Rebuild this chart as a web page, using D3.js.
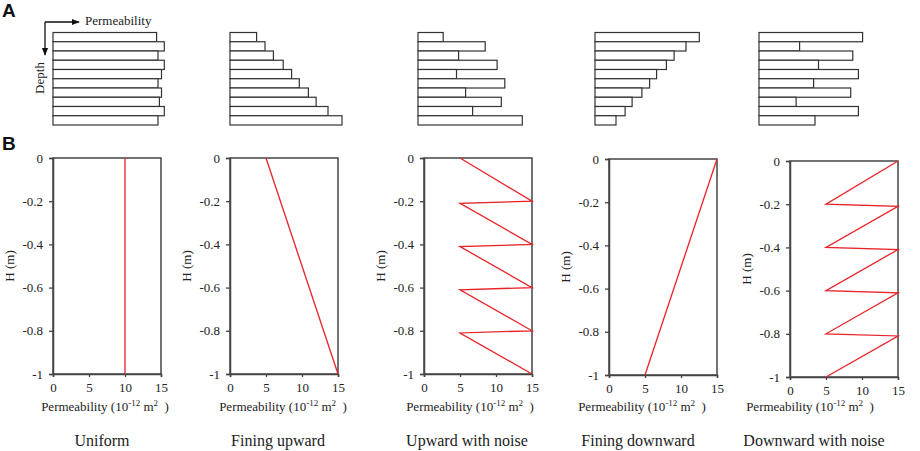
<!DOCTYPE html>
<html>
<head>
<meta charset="utf-8">
<script src="https://cdn.jsdelivr.net/npm/d3@7"></script>
<style>
  body { margin: 0; background: #fff; }
  svg { display: block; }
  text { font-family: "Liberation Serif", "DejaVu Serif", serif; fill: #222; }
  .panel-letter { font-family: "Liberation Sans", Arial, sans-serif; font-weight: bold; font-size: 19px; fill: #111; }
</style>
</head>
<body>
<div id="vis"></div>
<script>
// profile names (bottom captions)
const categories = ["Uniform", "Fining upward", "Upward with noise", "Fining downward", "Downward with noise"];

// panel A: permeability of the 10 layers, top layer first (10^-12 m2)
const layerUniform = [14.8, 15.9, 15.0, 15.9, 15.5, 15.0, 15.5, 15.2, 15.9, 15.0];
const layerFiningUp = [3.8, 5.0, 6.2, 7.6, 8.8, 9.9, 11.2, 12.3, 14.0, 16.0];
const layerUpNoise = [3.6, 9.6, 5.8, 11.3, 5.5, 12.4, 6.8, 11.9, 7.8, 14.9];
const layerFiningDown = [14.9, 13.0, 11.3, 10.2, 8.8, 7.8, 6.7, 5.3, 4.3, 3.0];
const layerDownNoise = [14.8, 5.8, 13.4, 8.5, 14.2, 7.8, 13.1, 5.3, 14.2, 8.0];
const layerValues = [layerUniform, layerFiningUp, layerUpNoise, layerFiningDown, layerDownNoise];

// panel B: permeability profiles, k against depth H (m)
const kUniform = [10, 10];
const hUniform = [0, -1];
const kFiningUp = [5, 15];
const hFiningUp = [0, -1];
const kUpNoise = [5, 15, 5, 15, 5, 15, 5, 15, 5, 15];
const hUpNoise = [0, -0.2, -0.21, -0.4, -0.41, -0.6, -0.61, -0.8, -0.81, -1];
const kFiningDown = [15, 5];
const hFiningDown = [0, -1];
const kDownNoise = [15, 5, 15, 5, 15, 5, 15, 5, 15, 5];
const hDownNoise = [0, -0.2, -0.21, -0.4, -0.41, -0.6, -0.61, -0.8, -0.81, -1];
const profileK = [kUniform, kFiningUp, kUpNoise, kFiningDown, kDownNoise];
const profileH = [hUniform, hFiningUp, hUpNoise, hFiningDown, hDownNoise];

// tick labels
const xTicks = [0, 5, 10, 15];
const yTicks = [0, -0.2, -0.4, -0.6, -0.8, -1];

const width = 920;
const height = 451;
const red = "#ea2127";
const ink = "#444";
const serif = "'Liberation Serif', 'DejaVu Serif', serif";

// where each column sits on the page
const colA = [53, 230, 418, 595, 759];
const colB = [53, 230, 424, 609, 790];
const topB = [158, 158, 158, 159, 161];
const captionX = [102, 278, 467, 638, 814];
const labelX = [105, 283, 470, 642, 810];
const plotW = 108;
const plotH = 216;

const svg = d3.select("#vis")
  .append("svg")
  .attr("width", width)
  .attr("height", height);

// marker for the small arrows in panel A
svg.append("defs").append("marker")
  .attr("id", "head")
  .attr("viewBox", "0 0 10 10")
  .attr("refX", 9)
  .attr("refY", 5)
  .attr("markerWidth", 6)
  .attr("markerHeight", 6)
  .attr("orient", "auto")
  .append("path")
  .attr("d", "M0,1 L10,5 L0,9 Z")
  .attr("fill", "#111");

svg.append("text").attr("class", "panel-letter").attr("x", 2).attr("y", 17).text("A");
svg.append("text").attr("class", "panel-letter").attr("x", 2).attr("y", 150).text("B");

// ---- panel A: layered columns ----
const barX = d3.scaleLinear().domain([0, 15]).range([0, 105]);
const barY = d3.scaleBand().domain(d3.range(10)).range([32.5, 125]).padding(0);

// arrows with "Permeability" and "Depth"
svg.append("path")
  .attr("d", "M45,22 L79,22")
  .attr("stroke", "#111").attr("stroke-width", 1.3).attr("fill", "none")
  .attr("marker-end", "url(#head)");
svg.append("path")
  .attr("d", "M45,22 L45,55")
  .attr("stroke", "#111").attr("stroke-width", 1.3).attr("fill", "none")
  .attr("marker-end", "url(#head)");
svg.append("text")
  .attr("x", 85).attr("y", 25)
  .style("font-size", "13px")
  .text("Permeability");
svg.append("text")
  .attr("transform", "translate(44,78) rotate(-90)")
  .attr("text-anchor", "middle")
  .style("font-size", "13px")
  .text("Depth");

layerValues.forEach((vals, i) => {
  const g = svg.append("g").attr("transform", `translate(${colA[i]},0)`);
  g.selectAll("rect")
    .data(vals)
    .enter()
    .append("rect")
    .attr("x", 0)
    .attr("y", (d, j) => barY(j))
    .attr("width", (d) => barX(d))
    .attr("height", barY.bandwidth())
    .attr("fill", "#fff")
    .attr("stroke", "#333")
    .attr("stroke-width", 1.2);
});

// ---- panel B: permeability profiles ----
const x = d3.scaleLinear().domain([0, 15]).range([0, plotW]);
const y = d3.scaleLinear().domain([-1, 0]).range([plotH, 0]);

const line = d3.line()
  .x((d) => x(d[0]))
  .y((d) => y(d[1]));

categories.forEach((name, i) => {
  const g = svg.append("g").attr("transform", `translate(${colB[i]},${topB[i]})`);

  // frame
  g.append("rect")
    .attr("width", plotW)
    .attr("height", plotH)
    .attr("fill", "none")
    .attr("stroke", ink)
    .attr("stroke-width", 1.5);

  const yAxis = g.append("g")
    .call(d3.axisLeft(y).tickValues(yTicks).tickSize(4).tickPadding(6)
      .tickFormat((d) => (d === 0 ? "0" : String(d))));
  const xAxis = g.append("g")
    .attr("transform", `translate(0,${plotH})`)
    .call(d3.axisBottom(x).tickValues(xTicks).tickSize(3).tickPadding(6));

  [xAxis, yAxis].forEach((ax) => {
    ax.attr("font-family", serif).attr("font-size", 13);
    ax.select(".domain").attr("stroke", ink).attr("stroke-width", 1.5);
    ax.selectAll(".tick line").attr("stroke", ink).attr("stroke-width", 1.3);
    ax.selectAll(".tick text")
      .style("font-family", serif)
      .style("font-size", "13px")
      .attr("fill", "#222");
  });

  g.append("path")
    .datum(d3.zip(profileK[i], profileH[i]))
    .attr("d", line)
    .attr("fill", "none")
    .attr("stroke", red)
    .attr("stroke-width", 1.3);

  // y label
  g.append("text")
    .attr("transform", `translate(-39,${plotH / 2}) rotate(-90)`)
    .attr("text-anchor", "middle")
    .style("font-size", "13px")
    .text("H (m)");

  // x label with superscripts
  const lab = svg.append("text")
    .attr("x", labelX[i])
    .attr("y", 411)
    .attr("text-anchor", "middle")
    .style("font-size", "13px");
  lab.append("tspan").text("Permeability (10");
  lab.append("tspan").attr("dy", -5).style("font-size", "9px").text("-12");
  lab.append("tspan").attr("dy", 5).text(" m");
  lab.append("tspan").attr("dy", -5).style("font-size", "9px").text("2");
  lab.append("tspan").attr("dy", 5).text("\u00a0\u00a0)");

  // caption
  svg.append("text")
    .attr("x", captionX[i])
    .attr("y", 446)
    .attr("text-anchor", "middle")
    .style("font-size", "16px")
    .text(name);
});
</script>
</body>
</html>
